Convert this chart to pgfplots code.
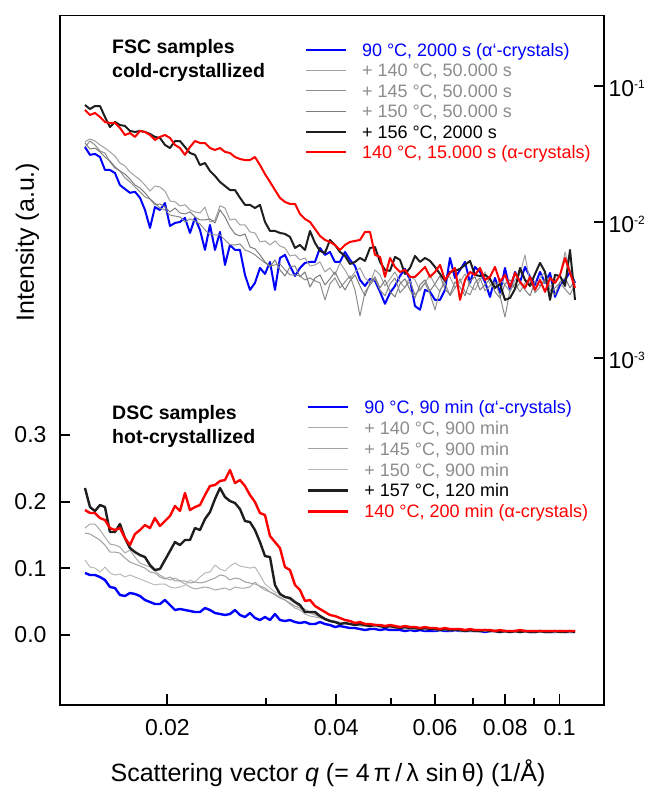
\documentclass[border=0pt]{standalone}
\usepackage{pgfplots}
\pgfplotsset{compat=1.18}
\usepackage{pgfplotstable}
\usepackage{fontspec}
\setmainfont{Liberation Sans}
\definecolor{cblue}{RGB}{0,0,255}
\definecolor{cred}{RGB}{255,0,0}
\definecolor{cdark}{RGB}{30,30,30}
\definecolor{gtext}{RGB}{140,140,140}
\definecolor{fgA}{RGB}{160,160,160}
\definecolor{fgB}{RGB}{140,140,140}
\definecolor{fgC}{RGB}{125,125,125}
\definecolor{dgA}{RGB}{170,170,170}
\definecolor{dgB}{RGB}{160,160,160}
\definecolor{dgC}{RGB}{185,185,185}
\newcommand{\tenpow}[1]{10\raisebox{8pt}{\fontsize{12}{12}\selectfont #1}}

% FSC samples: q (1/A), blue, gray 140, gray 145, gray 150, black, red
\pgfplotstableread{
q b g1 g2 g3 k r
0.014260 0.0354 0.0386 0.0354 0.0379 0.0721 0.0663
0.014556 0.0310 0.0406 0.0392 0.0342 0.0674 0.0609
0.014857 0.0315 0.0392 0.0367 0.0348 0.0709 0.0630
0.015165 0.0299 0.0367 0.0331 0.0326 0.0709 0.0589
0.015480 0.0240 0.0348 0.0320 0.0299 0.0589 0.0541
0.015800 0.0240 0.0326 0.0275 0.0280 0.0497 0.0532
0.016128 0.0228 0.0304 0.0248 0.0253 0.0541 0.0532
0.016462 0.0186 0.0270 0.0236 0.0236 0.0514 0.0489
0.016804 0.0174 0.0257 0.0210 0.0224 0.0506 0.0434
0.017152 0.0163 0.0232 0.0196 0.0206 0.0465 0.0449
0.017508 0.0166 0.0217 0.0180 0.0186 0.0457 0.0420
0.017871 0.0150 0.0203 0.0166 0.0177 0.0465 0.0465
0.018241 0.0122 0.0186 0.0152 0.0163 0.0457 0.0457
0.018620 0.00900 0.0168 0.0147 0.0147 0.0442 0.0434
0.019006 0.0128 0.0183 0.0137 0.0133 0.0420 0.0399
0.019400 0.0122 0.0180 0.0126 0.0135 0.0413 0.0420
0.019802 0.0137 0.0168 0.0122 0.0128 0.0367 0.0434
0.020213 0.00931 0.0142 0.0112 0.0118 0.0348 0.0413
0.020632 0.00979 0.0140 0.0110 0.0126 0.0392 0.0367
0.021060 0.00996 0.01306 0.01084 0.0116 0.0392 0.0348
0.021496 0.01066 0.0133 0.00996 0.0114 0.0354 0.0310
0.021942 0.00827 0.0122 0.01048 0.0118 0.0320 0.0354
0.022397 0.01066 0.0118 0.01013 0.01084 0.0310 0.0392
0.022861 0.00870 0.0116 0.00963 0.0103 0.0261 0.0379
0.023335 0.00620 0.0128 0.00870 0.0103 0.0270 0.0379
0.023819 0.00947 0.00996 0.00799 0.01048 0.0236 0.0348
0.024313 0.00620 0.0103 0.00799 0.00979 0.0217 0.0337
0.024817 0.00841 0.0131 0.00799 0.0122 0.0196 0.0348
0.025332 0.00481 0.0126 0.00734 0.01084 0.0183 0.0326
0.025857 0.00675 0.0103 0.00675 0.00915 0.0171 0.0320
0.026393 0.00620 0.01048 0.00675 0.00813 0.0171 0.0299
0.026940 0.00620 0.00947 0.00686 0.00786 0.0150 0.0289
0.027499 0.00406 0.00947 0.00620 0.00813 0.0133 0.0284
0.028069 0.00315 0.00841 0.00599 0.00652 0.0133 0.0284
0.028651 0.00355 0.00827 0.00570 0.00631 0.0126 0.0299
0.029245 0.00457 0.00710 0.00532 0.00570 0.0133 0.0261
0.029852 0.00413 0.00722 0.00498 0.00506 0.00996 0.0224
0.030471 0.00506 0.00675 0.00473 0.00465 0.00855 0.0196
0.031102 0.00315 0.00722 0.00481 0.00524 0.00855 0.0171
0.031747 0.00541 0.00663 0.00489 0.00442 0.00827 0.01495
0.032405 0.00570 0.00641 0.00442 0.00399 0.00813 0.01397
0.033077 0.00473 0.00560 0.00406 0.00465 0.00773 0.01350
0.033763 0.00399 0.00570 0.00406 0.00473 0.00641 0.01350
0.034463 0.00457 0.00524 0.00399 0.00393 0.00675 0.01140
0.035178 0.00498 0.00541 0.00373 0.00427 0.00620 0.01048
0.035907 0.00506 0.00473 0.00386 0.00331 0.00855 0.00996
0.036651 0.00506 0.00481 0.00367 0.00386 0.00698 0.00885
0.037411 0.00641 0.00506 0.00355 0.00406 0.00610 0.00786
0.038187 0.00570 0.00427 0.00266 0.00343 0.00589 0.00734
0.038979 0.00599 0.00457 0.00349 0.00380 0.00734 0.00710
0.039787 0.00506 0.00406 0.00386 0.00427 0.00675 0.00675
0.040612 0.00506 0.00498 0.00326 0.00361 0.00599 0.00620
0.041454 0.00599 0.00442 0.00361 0.00315 0.00560 0.00675
0.042314 0.00524 0.00380 0.00399 0.00367 0.00489 0.00710
0.043191 0.00473 0.00427 0.00315 0.00406 0.00506 0.00722
0.044087 0.00373 0.00457 0.00203 0.00337 0.00541 0.00734
0.045001 0.00337 0.00386 0.00305 0.00285 0.00515 0.00841
0.045934 0.00380 0.00355 0.00343 0.00355 0.00641 0.00841
0.046886 0.00367 0.00442 0.00380 0.00393 0.00652 0.00570
0.047858 0.00305 0.00406 0.00315 0.00326 0.00506 0.00551
0.048851 0.00249 0.00337 0.00285 0.00373 0.00442 0.00393
0.049864 0.00300 0.00380 0.00349 0.00305 0.00435 0.00541
0.050898 0.00337 0.00427 0.00386 0.00280 0.00551 0.00465
0.051953 0.00399 0.00361 0.00300 0.00349 0.00524 0.00427
0.053030 0.00450 0.00326 0.00331 0.00380 0.00413 0.00442
0.054130 0.00373 0.00399 0.00367 0.00315 0.00457 0.00393
0.055252 0.00240 0.00373 0.00290 0.00275 0.00560 0.00393
0.056398 0.00225 0.00310 0.00320 0.00343 0.00506 0.00427
0.057567 0.00315 0.00355 0.00355 0.00373 0.00541 0.00465
0.058761 0.00305 0.00406 0.00294 0.00310 0.00515 0.00393
0.059979 0.00266 0.00343 0.00225 0.00349 0.00465 0.00427
0.061223 0.00266 0.00305 0.00315 0.00399 0.00413 0.00481
0.062492 0.00315 0.00380 0.00355 0.00320 0.00367 0.00373
0.063788 0.00541 0.00393 0.00285 0.00290 0.00427 0.00420
0.065111 0.00386 0.00326 0.00326 0.00361 0.00435 0.00457
0.066461 0.00442 0.00361 0.00380 0.00331 0.00450 0.00266
0.067839 0.00506 0.00413 0.00305 0.00285 0.00481 0.00373
0.069245 0.00355 0.00337 0.00290 0.00367 0.00515 0.00427
0.070681 0.00465 0.00315 0.00355 0.00393 0.00406 0.00406
0.072147 0.00427 0.00373 0.00386 0.00315 0.00399 0.00457
0.073643 0.00361 0.00427 0.00310 0.00343 0.00406 0.00373
0.075170 0.00280 0.00349 0.00337 0.00380 0.00380 0.00393
0.076728 0.00386 0.00320 0.00361 0.00305 0.00326 0.00465
0.078319 0.00300 0.00380 0.00285 0.00275 0.00349 0.00361
0.079943 0.00457 0.00343 0.00199 0.00349 0.00266 0.00406
0.081601 0.00315 0.00305 0.00315 0.00373 0.00275 0.00331
0.083293 0.00427 0.00373 0.00349 0.00320 0.00320 0.00420
0.085020 0.00361 0.00413 0.00305 0.00355 0.00457 0.00361
0.086783 0.00465 0.00570 0.00355 0.00315 0.00373 0.00326
0.088582 0.00393 0.00355 0.00386 0.00285 0.00337 0.00393
0.090419 0.00343 0.00320 0.00300 0.00367 0.00413 0.00315
0.092294 0.00427 0.00386 0.00331 0.00337 0.00498 0.00373
0.094208 0.00355 0.00427 0.00367 0.00380 0.00427 0.00305
0.096161 0.00420 0.00331 0.00294 0.00315 0.00266 0.00386
0.098155 0.00280 0.00367 0.00326 0.00290 0.00406 0.00355
0.100190 0.00343 0.00399 0.00355 0.00361 0.00399 0.00406
0.102268 0.00373 0.00599 0.00320 0.00386 0.00337 0.00541
0.104388 0.00427 0.00442 0.00290 0.00326 0.00620 0.00420
0.106553 0.00355 0.00343 0.00349 0.00367 0.00266 0.00326
}\fsc

% DSC samples: q (1/A), blue, gray 140, gray 145, gray 150, black, red
\pgfplotstableread{
q b g1 g2 g3 k r
0.014260 0.0930 0.1604 0.1529 0.1124 0.2204 0.1874
0.014556 0.0900 0.1664 0.1514 0.1019 0.1919 0.1829
0.014857 0.0900 0.1664 0.1469 0.1004 0.1859 0.1829
0.015165 0.0870 0.1574 0.1424 0.0945 0.1949 0.1754
0.015480 0.0825 0.1469 0.1349 0.1019 0.1919 0.1724
0.015800 0.0720 0.1364 0.1244 0.0930 0.1544 0.1604
0.016128 0.0705 0.1349 0.1244 0.0900 0.1544 0.1574
0.016462 0.0600 0.1319 0.1229 0.0915 0.1664 0.1604
0.016804 0.0585 0.1229 0.1154 0.0870 0.1454 0.1454
0.017152 0.0630 0.1274 0.1094 0.0900 0.1304 0.1349
0.017508 0.0615 0.1169 0.1064 0.0870 0.1244 0.1514
0.017871 0.0585 0.1079 0.1034 0.0840 0.1199 0.1574
0.018241 0.0525 0.1049 0.1004 0.0810 0.1169 0.1649
0.018620 0.0495 0.1019 0.0945 0.0780 0.1049 0.1604
0.019006 0.0465 0.0960 0.0930 0.0750 0.0975 0.1754
0.019400 0.0465 0.0900 0.0870 0.0765 0.0990 0.1634
0.019802 0.0525 0.0855 0.0840 0.0765 0.1124 0.1709
0.020213 0.0450 0.0825 0.0870 0.0720 0.1259 0.1784
0.020632 0.0375 0.0855 0.0810 0.0705 0.1394 0.1934
0.021060 0.0390 0.0810 0.0810 0.0720 0.1349 0.1859
0.021496 0.0375 0.0765 0.0810 0.0750 0.1424 0.2129
0.021942 0.0360 0.0720 0.0780 0.0825 0.1424 0.1874
0.022397 0.0345 0.0690 0.0795 0.0795 0.1604 0.1919
0.022861 0.0345 0.0705 0.0780 0.0870 0.1574 0.1949
0.023335 0.0405 0.0720 0.0795 0.0930 0.1739 0.2099
0.023819 0.0375 0.0705 0.0825 0.0945 0.1844 0.2234
0.024313 0.0330 0.0675 0.0855 0.1049 0.2039 0.2249
0.024817 0.0315 0.0690 0.0900 0.0990 0.2204 0.2309
0.025332 0.0300 0.0705 0.0885 0.0960 0.2069 0.2324
0.025857 0.0315 0.0675 0.0825 0.1034 0.2009 0.2474
0.026393 0.0375 0.0720 0.0855 0.1079 0.1979 0.2279
0.026940 0.0300 0.0705 0.0840 0.1034 0.1889 0.2324
0.027499 0.0270 0.0705 0.0795 0.1019 0.1709 0.2234
0.028069 0.0330 0.0720 0.0780 0.1004 0.1694 0.2099
0.028651 0.0255 0.0795 0.0765 0.1019 0.1574 0.1994
0.029245 0.0225 0.0720 0.0735 0.0900 0.1394 0.1829
0.029852 0.0270 0.0675 0.0705 0.0765 0.1184 0.1799
0.030471 0.0225 0.0645 0.0645 0.0705 0.1169 0.1484
0.031102 0.0315 0.0615 0.0600 0.0645 0.0750 0.1394
0.031747 0.0225 0.0570 0.0555 0.0630 0.0615 0.1304
0.032405 0.0210 0.0525 0.0525 0.0570 0.0570 0.1019
0.033077 0.0225 0.0465 0.0480 0.0525 0.0555 0.0975
0.033763 0.0195 0.0405 0.0435 0.0480 0.0495 0.0750
0.034463 0.0180 0.0375 0.0405 0.0420 0.0450 0.0675
0.035178 0.0195 0.0315 0.0360 0.0390 0.0345 0.0510
0.035907 0.0165 0.0285 0.0330 0.0345 0.0345 0.0525
0.036651 0.0165 0.0270 0.0300 0.0315 0.0345 0.0435
0.037411 0.0195 0.0255 0.0270 0.0300 0.0285 0.0390
0.038187 0.0165 0.0240 0.0225 0.0255 0.0240 0.0345
0.038979 0.0150 0.0225 0.0210 0.0225 0.0210 0.0300
0.039787 0.0120 0.0195 0.0195 0.0210 0.0195 0.0285
0.040612 0.0135 0.0180 0.0180 0.0195 0.0165 0.0255
0.041454 0.0120 0.0180 0.0165 0.0180 0.0180 0.0225
0.042314 0.0105 0.0165 0.0165 0.0165 0.0165 0.0210
0.043191 0.0105 0.0150 0.0150 0.0165 0.0150 0.0180
0.044087 0.0090 0.0150 0.0135 0.0150 0.0165 0.0195
0.045001 0.0075 0.0135 0.0135 0.0150 0.0150 0.0165
0.045934 0.0090 0.0135 0.0120 0.0135 0.0135 0.0165
0.046886 0.0090 0.0120 0.0135 0.0135 0.0150 0.0150
0.047858 0.0075 0.0135 0.0120 0.0120 0.0135 0.0150
0.048851 0.0090 0.0120 0.0120 0.0135 0.0120 0.0135
0.049864 0.0075 0.0120 0.0105 0.0120 0.0135 0.0150
0.050898 0.0075 0.0105 0.0105 0.0120 0.0120 0.0135
0.051953 0.0075 0.0105 0.0105 0.0105 0.0105 0.0120
0.053030 0.0060 0.0105 0.0090 0.0105 0.0120 0.0135
0.054130 0.0075 0.0090 0.0090 0.0105 0.0105 0.0120
0.055252 0.0060 0.0105 0.0090 0.0090 0.0105 0.0120
0.056398 0.0075 0.0090 0.0090 0.0105 0.0090 0.0105
0.057567 0.0060 0.0090 0.0075 0.0090 0.0105 0.0120
0.058761 0.0060 0.0090 0.0090 0.0090 0.0090 0.0105
0.059979 0.0060 0.0075 0.0075 0.0090 0.0090 0.0105
0.061223 0.0075 0.0090 0.0075 0.0075 0.0075 0.0090
0.062492 0.0060 0.0075 0.0075 0.0090 0.0090 0.0105
0.063788 0.0060 0.0075 0.0060 0.0075 0.0075 0.0090
0.065111 0.0075 0.0075 0.0075 0.0075 0.0075 0.0090
0.066461 0.0060 0.0060 0.0060 0.0075 0.0075 0.0090
0.067839 0.0060 0.0075 0.0060 0.0060 0.0060 0.0075
0.069245 0.0060 0.0060 0.0060 0.0075 0.0075 0.0090
0.070681 0.0060 0.0060 0.0060 0.0060 0.0060 0.0075
0.072147 0.0060 0.0060 0.0045 0.0060 0.0060 0.0075
0.073643 0.0045 0.0060 0.0060 0.0060 0.0075 0.0075
0.075170 0.0060 0.0060 0.0045 0.0060 0.0060 0.0075
0.076728 0.0060 0.0045 0.0060 0.0060 0.0060 0.0060
0.078319 0.0045 0.0060 0.0045 0.0045 0.0045 0.0075
0.079943 0.0060 0.0045 0.0045 0.0060 0.0060 0.0060
0.081601 0.0045 0.0060 0.0045 0.0045 0.0045 0.0060
0.083293 0.0060 0.0045 0.0060 0.0045 0.0060 0.0060
0.085020 0.0045 0.0045 0.0045 0.0060 0.0045 0.0075
0.086783 0.0060 0.0060 0.0045 0.0045 0.0060 0.0060
0.088582 0.0045 0.0045 0.0045 0.0045 0.0045 0.0060
0.090419 0.0045 0.0045 0.0060 0.0045 0.0045 0.0060
0.092294 0.0060 0.0045 0.0045 0.0060 0.0060 0.0060
0.094208 0.0045 0.0060 0.0045 0.0045 0.0045 0.0060
0.096161 0.0045 0.0045 0.0045 0.0045 0.0045 0.0060
0.098155 0.0045 0.0045 0.0060 0.0045 0.0060 0.0060
0.100190 0.0060 0.0045 0.0045 0.0060 0.0045 0.0060
0.102268 0.0045 0.0045 0.0045 0.0045 0.0045 0.0060
0.104388 0.0045 0.0060 0.0045 0.0045 0.0060 0.0060
0.106553 0.0045 0.0045 0.0045 0.0045 0.0045 0.0060
}\dsc

\begin{document}
\begin{tikzpicture}
\path[use as bounding box] (-60pt,-82pt) rectangle (594pt,705pt);

% ---------- DSC (linear, left axis) ----------
\begin{axis}[
  at={(0pt,0pt)}, anchor=south west,
  scale only axis, width=544pt, height=689.5pt,
  xmode=log, xmin=0.01287, xmax=0.1200,
  ymin=-0.1049, ymax=0.9288,
  tick align=inside,
  major tick length=10.5pt, minor tick length=7pt,
  major tick style={line width=1.8pt, black},
  minor tick style={line width=1.8pt, black},
  axis line style={line width=1.8pt, black},
  /pgf/number format/assume math mode=true,
  ticklabel style={font=\fontsize{23}{23}\selectfont},
  legend cell align=left,
  legend image code/.code={\draw[#1] (0pt,3.2pt) -- (40pt,3.2pt);},
  tick pos=left,
  xtick={0.02,0.04,0.06,0.08,0.1},
  xticklabels={0.02,0.04,0.06,0.08,0.1},
  minor xtick={0.03,0.05,0.07,0.09},
  ytick={0,0.1,0.2,0.3},
  yticklabels={0.0,0.1,0.2,0.3},
  yticklabel style={xshift=-10pt},
  xticklabel style={yshift=-10.5pt},
  xlabel={Scattering vector \textit{q} (= 4\,π\,/\,λ sin\,θ) (1/Å)},
  every axis x label/.style={at={(axis description cs:0.4926,0)}, anchor=base, yshift=-76pt, font=\fontsize{25}{25}\selectfont},
  ylabel={Intensity (a.u.)},
  every axis y label/.style={at={(axis description cs:-0.0478,0.6715)}, rotate=90, anchor=base, font=\fontsize{25}{25}\selectfont},
  legend style={at={(axis description cs:0.4540,0.4426)}, anchor=north west,
    draw=none, fill=none, inner sep=0pt, outer sep=0pt,
    column sep=15pt, row sep=0pt,
    font=\fontsize{18}{18}\selectfont,
    nodes={inner sep=0pt, text height=13.5pt, text depth=7.4pt}},
]
\addplot[cblue, line width=2.4pt, line join=round] table[x=q, y=b]{\dsc};
\addlegendentry{\textcolor{cblue}{90 °C, 90 min (α‘-crystals)}}
\addplot[dgA, line width=1pt, line join=round] table[x=q, y=g1]{\dsc};
\addlegendentry{\textcolor{gtext}{+ 140 °C, 900 min}}
\addplot[dgB, line width=1pt, line join=round] table[x=q, y=g2]{\dsc};
\addlegendentry{\textcolor{gtext}{+ 145 °C, 900 min}}
\addplot[dgC, line width=1pt, line join=round] table[x=q, y=g3]{\dsc};
\addlegendentry{\textcolor{gtext}{+ 150 °C, 900 min}}
\addplot[cdark, line width=2.4pt, line join=round] table[x=q, y=k]{\dsc};
\addlegendentry{\textcolor{black}{+ 157 °C, 120 min}}
\addplot[cred, line width=2.4pt, line join=round] table[x=q, y=r]{\dsc};
\addlegendentry{\textcolor{cred}{140 °C, 200 min (α-crystals)}}
\end{axis}

% ---------- FSC (log, right axis) ----------
\begin{axis}[
  at={(0pt,0pt)}, anchor=south west,
  scale only axis, width=544pt, height=689.5pt,
  xmode=log, xmin=0.01287, xmax=0.1200,
  ymode=log, ymin=2.794e-6, ymax=0.3282,
  tick align=inside,
  major tick length=10.5pt,
  major tick style={line width=1.8pt, black},
  axis line style={line width=1.8pt, black},
  /pgf/number format/assume math mode=true,
  ticklabel style={font=\fontsize{23}{23}\selectfont},
  legend cell align=left,
  legend image code/.code={\draw[#1] (0pt,3.2pt) -- (40pt,3.2pt);},
  hide x axis,
  axis y line*=right,
  ytick pos=right,
  ytick={0.001,0.01,0.1},
  yticklabels={\tenpow{-3},\tenpow{-2},\tenpow{-1}},
  yminorticks=false,
  yticklabel style={yshift=-3pt, xshift=1pt},
  legend style={at={(axis description cs:0.4504,0.9608)}, anchor=north west,
    draw=none, fill=none, inner sep=0pt, outer sep=0pt,
    column sep=15pt, row sep=0pt,
    font=\fontsize{18}{18}\selectfont,
    nodes={inner sep=0pt, text height=13.5pt, text depth=7pt}},
]
\addplot[cblue, line width=2pt, line join=round] table[x=q, y=b]{\fsc};
\addlegendentry{\textcolor{cblue}{90 °C, 2000 s (α‘-crystals)}}
\addplot[fgA, line width=1pt, line join=round] table[x=q, y=g1]{\fsc};
\addlegendentry{\textcolor{gtext}{+ 140 °C, 50.000 s}}
\addplot[fgB, line width=1pt, line join=round] table[x=q, y=g2]{\fsc};
\addlegendentry{\textcolor{gtext}{+ 145 °C, 50.000 s}}
\addplot[fgC, line width=1pt, line join=round] table[x=q, y=g3]{\fsc};
\addlegendentry{\textcolor{gtext}{+ 150 °C, 50.000 s}}
\addplot[cdark, line width=2pt, line join=round] table[x=q, y=k]{\fsc};
\addlegendentry{\textcolor{black}{+ 156 °C, 2000 s}}
\addplot[cred, line width=2pt, line join=round] table[x=q, y=r]{\fsc};
\addlegendentry{\textcolor{cred}{140 °C, 15.000 s (α-crystals)}}
\end{axis}

\begin{scope}[every node/.style={anchor=base west, inner sep=0pt, font=\fontsize{19.5}{19.5}\selectfont\bfseries}]
\node at (52pt,651pt) {FSC samples};
\node at (52pt,627.7pt) {cold-crystallized};
\node at (52pt,285pt) {DSC samples};
\node at (52pt,261.7pt) {hot-crystallized};
\end{scope}
\end{tikzpicture}
\end{document}
